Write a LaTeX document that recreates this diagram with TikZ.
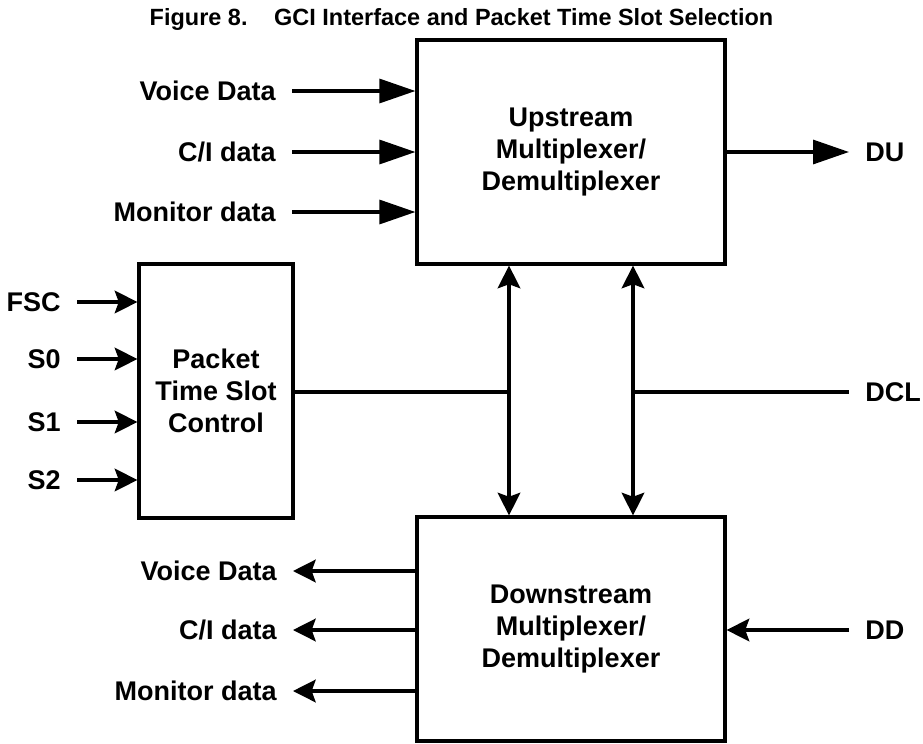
\documentclass[tikz,border=0pt]{standalone}
\usepackage{fontspec}
\setmainfont{Liberation Sans}
\usetikzlibrary{arrows.meta}

\begin{document}
\begin{tikzpicture}[x=0.75pt,y=-0.75pt,line width=2.4pt,
  >={Stealth[length=17pt,width=17pt,inset=3pt]}]
\tikzstyle{every node}=[font=\bfseries\fontsize{20.25pt}{24pt}\selectfont]
\tikzstyle{block}=[draw,rectangle,align=center,inner sep=0pt]
\tikzstyle{sig}=[inner xsep=11pt,inner ysep=0pt,text height=14.5pt,text depth=0pt]
\tikzstyle{big}=[-{Triangle[length=27pt,width=18pt]}]
\useasboundingbox (0,0) rectangle (923,743);
\node[font=\bfseries\fontsize{17.6pt}{20pt}\selectfont,anchor=base] (title) at (461.5,25) {Figure 8.\hspace{20pt}GCI Interface and Packet Time Slot Selection};
\node[block,minimum width=231pt,minimum height=168pt] (up) at (571,152) {Upstream\\Multiplexer/\\Demultiplexer};
\node[block,minimum width=115.5pt,minimum height=190.5pt] (pk) at (216,391) {Packet\\Time Slot\\Control};
\node[block,minimum width=231pt,minimum height=168pt] (dn) at (571,629) {Downstream\\Multiplexer/\\Demultiplexer};
\node[sig,anchor=east] (vdi) at (292,91) {Voice Data};
\node[sig,anchor=east] (cdi) at (292,152) {C/I data};
\node[sig,anchor=east] (mdi) at (292,212) {Monitor data};
\node[sig,anchor=east] (fsc) at (77,302) {FSC};
\node[sig,anchor=east] (s0) at (77,359) {S0};
\node[sig,anchor=east] (s1) at (77,422) {S1};
\node[sig,anchor=east] (s2) at (77,480) {S2};
\node[sig,anchor=east] (vdo) at (293,571) {Voice Data};
\node[sig,anchor=east] (cdo) at (293,630) {C/I data};
\node[sig,anchor=east] (mdo) at (293,691) {Monitor data};
\node[sig,anchor=west] (du) at (849,152) {DU};
\node[sig,anchor=west] (dcl) at (849,392) {DCL};
\node[sig,anchor=west] (dd) at (849,630) {DD};
\coordinate (b1) at (509,392);
\coordinate (b2) at (633,392);
\draw[big] (vdi) -- (vdi -| up.west);
\draw[big] (cdi) -- (cdi -| up.west);
\draw[big] (mdi) -- (mdi -| up.west);
\draw[big] (up) -- (du);
\draw[->] (fsc) -- (fsc -| pk.west);
\draw[->] (s0) -- (s0 -| pk.west);
\draw[->] (s1) -- (s1 -| pk.west);
\draw[->] (s2) -- (s2 -| pk.west);
\draw (pk.east |- b1) -- (b1);
\draw (b2) -- (dcl);
\draw[<->] (up.south -| b1) -- (dn.north -| b1);
\draw[<->] (up.south -| b2) -- (dn.north -| b2);
\draw[->] (dn.west |- vdo) -- (vdo);
\draw[->] (dn.west |- cdo) -- (cdo);
\draw[->] (dn.west |- mdo) -- (mdo);
\draw[->] (dd) -- (dd -| dn.east);
\end{tikzpicture}
\end{document}
